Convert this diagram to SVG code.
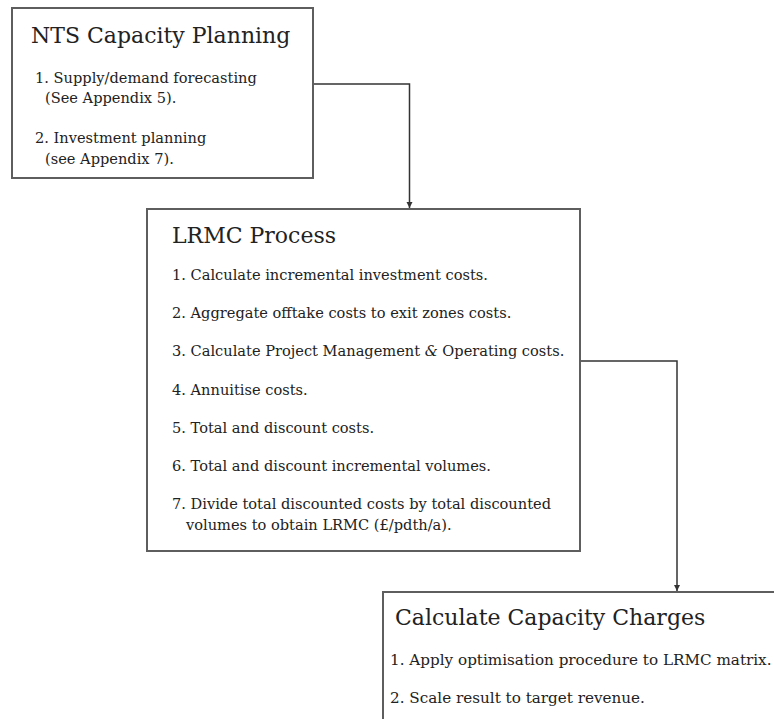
<svg xmlns="http://www.w3.org/2000/svg" width="774" height="719" viewBox="0 0 774 719">
<defs>
<style>
.box{fill:#fff;stroke:#5e5e5e;stroke-width:2}
.t{font-family:"DejaVu Serif","Liberation Serif",serif;fill:#222}
.h{font-size:22px}
.i{font-size:14.6px}
.j{font-size:15.2px}
.c{fill:none;stroke:#333;stroke-width:1.5}
</style>
<marker id="ad" markerUnits="userSpaceOnUse" markerWidth="8" markerHeight="8" refX="4" refY="7" orient="0" viewBox="0 0 8 8">
<path d="M1,1 L4,7 L7,1 Z" fill="#333"/>
</marker>
</defs>
<rect width="774" height="719" fill="#fff"/>
<g id="connectors">
<path class="c" d="M313,84 H409.5 V208" marker-end="url(#ad)"/>
<path class="c" d="M580,361 H677 V591" marker-end="url(#ad)"/>
</g>
<g id="nts-capacity-planning">
<rect class="box" x="12" y="8" width="301" height="170"/>
<text class="t h" x="31" y="43">NTS Capacity Planning</text>
<text class="t i" x="35" y="83">1. Supply/demand forecasting</text>
<text class="t i" x="45" y="103">(See Appendix 5).</text>
<text class="t i" x="35" y="143">2. Investment planning</text>
<text class="t i" x="45" y="164">(see Appendix 7).</text>
</g>
<g id="lrmc-process">
<rect class="box" x="147" y="209" width="433" height="342"/>
<text class="t h" x="172" y="243">LRMC Process</text>
<text class="t i" x="172" y="280">1. Calculate incremental investment costs.</text>
<text class="t i" x="172" y="318">2. Aggregate offtake costs to exit zones costs.</text>
<text class="t i" x="172" y="356">3. Calculate Project Management <tspan font-style="italic">&amp;</tspan> Operating costs.</text>
<text class="t i" x="172" y="395">4. Annuitise costs.</text>
<text class="t i" x="172" y="433">5. Total and discount costs.</text>
<text class="t i" x="172" y="471">6. Total and discount incremental volumes.</text>
<text class="t i" x="172" y="509">7. Divide total discounted costs by total discounted</text>
<text class="t i" x="186" y="530">volumes to obtain LRMC (£/pdth/a).</text>
</g>
<g id="calculate-capacity-charges">
<rect class="box" x="383" y="592" width="400" height="140"/>
<text class="t h" x="395" y="625">Calculate Capacity Charges</text>
<text class="t j" x="390" y="665">1. Apply optimisation procedure to LRMC matrix.</text>
<text class="t j" x="390" y="703">2. Scale result to target revenue.</text>
</g>
</svg>
